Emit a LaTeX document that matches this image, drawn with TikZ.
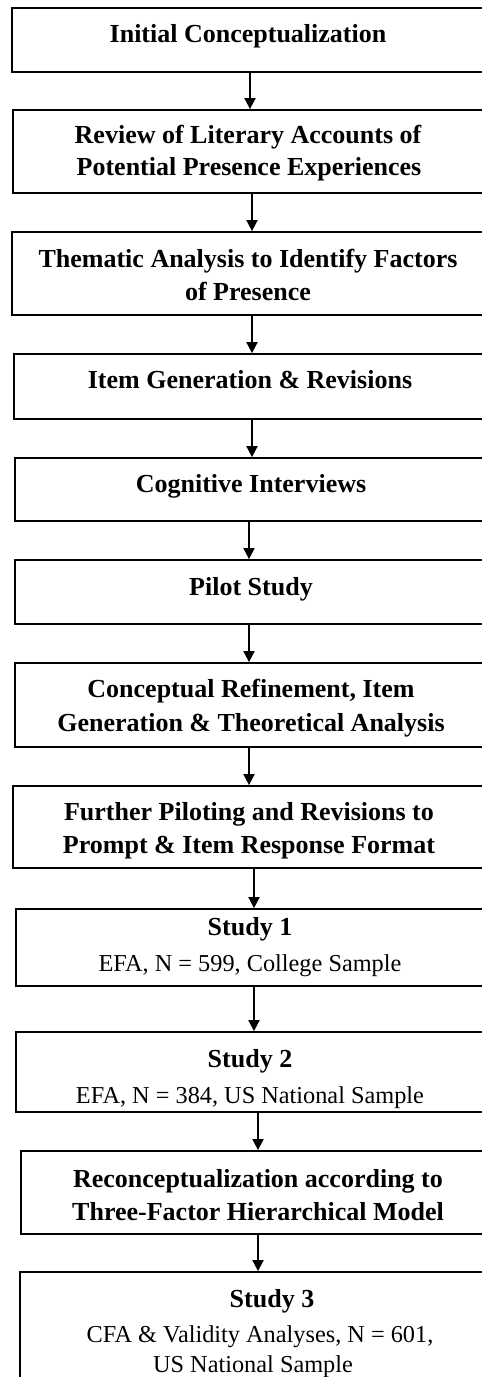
\documentclass[tikz,border=0pt]{standalone}
\usepackage{fontspec}
\setmainfont{Liberation Serif}
\usetikzlibrary{arrows.meta}
\begin{document}
\begin{tikzpicture}[x=1pt,y=-1pt,
  stagebox/.style={draw=black, line width=1.8pt, inner sep=0pt, fill=none},
  bt/.style={anchor=base, inner sep=0pt, font=\bfseries\fontsize{26}{31}\selectfont},
  rt/.style={anchor=base, inner sep=0pt, font=\fontsize{24.3}{30}\selectfont},
  flow/.style={line width=1.8pt, -{Triangle[length=11pt,width=11pt]}}]
\useasboundingbox (0,0) rectangle (482,1377);
\clip (0,0) rectangle (482,1377);
\fill[white] (0,0) rectangle (482,1377);

% stage boxes
\node[stagebox, minimum width=476pt, minimum height=64pt] (b1) at (250,40) {};
\node[stagebox, minimum width=478pt, minimum height=83pt] (b2) at (252,151.5) {};
\node[stagebox, minimum width=480pt, minimum height=83pt] (b3) at (252,273.5) {};
\node[stagebox, minimum width=476pt, minimum height=65pt] (b4) at (252,386.5) {};
\node[stagebox, minimum width=468pt, minimum height=63pt] (b5) at (249,489.5) {};
\node[stagebox, minimum width=468pt, minimum height=64pt] (b6) at (249,592) {};
\node[stagebox, minimum width=468pt, minimum height=84pt] (b7) at (249,705) {};
\node[stagebox, minimum width=482pt, minimum height=82pt] (b8) at (254,827) {};
\node[stagebox, minimum width=476pt, minimum height=77pt] (b9) at (254,947.5) {};
\node[stagebox, minimum width=484pt, minimum height=80pt] (b10) at (258,1072) {};
\node[stagebox, minimum width=474pt, minimum height=83pt] (b11) at (258,1192.5) {};
\node[stagebox, minimum width=484pt, minimum height=128pt] (b12) at (262,1336) {};

% stage texts
\node[bt] (t1) at (248,42) {Initial Conceptualization};
\node[bt] (t2a) at (248,143) {Review of Literary Accounts of};
\node[bt] (t2b) at (249,175) {Potential Presence Experiences};
\node[bt] (t3a) at (248,267) {Thematic Analysis to Identify Factors};
\node[bt] (t3b) at (248,300) {of Presence};
\node[bt] (t4) at (250,388) {Item Generation \& Revisions};
\node[bt] (t5) at (251,492) {Cognitive Interviews};
\node[bt] (t6) at (251,595) {Pilot Study};
\node[bt] (t7a) at (251,697) {Conceptual Refinement, Item};
\node[bt] (t7b) at (251,731) {Generation \& Theoretical Analysis};
\node[bt] (t8a) at (249,820) {Further Piloting and Revisions to};
\node[bt] (t8b) at (249,853) {Prompt \& Item Response Format};
\node[bt] (t9a) at (250,935) {Study 1};
\node[rt] (t9b) at (250,971) {EFA, N = 599, College Sample};
\node[bt] (t10a) at (250,1067) {Study 2};
\node[rt] (t10b) at (250,1103) {EFA, N = 384, US National Sample};
\node[bt] (t11a) at (258,1187) {Reconceptualization according to};
\node[bt] (t11b) at (258,1220) {Three-Factor Hierarchical Model};
\node[bt] (t12a) at (272,1307) {Study 3};
\node[rt] (t12b) at (260,1342) {CFA \& Validity Analyses, N = 601,};
\node[rt] (t12c) at (253,1372) {US National Sample};

% connectors
\foreach \a/\b in {b1/b2,b2/b3,b3/b4,b4/b5,b5/b6,b6/b7,b7/b8,b8/b9,b9/b10,b10/b11,b11/b12}
  \draw[flow] (\a.south) -- (\a.south |- \b.north);
\end{tikzpicture}
\end{document}
